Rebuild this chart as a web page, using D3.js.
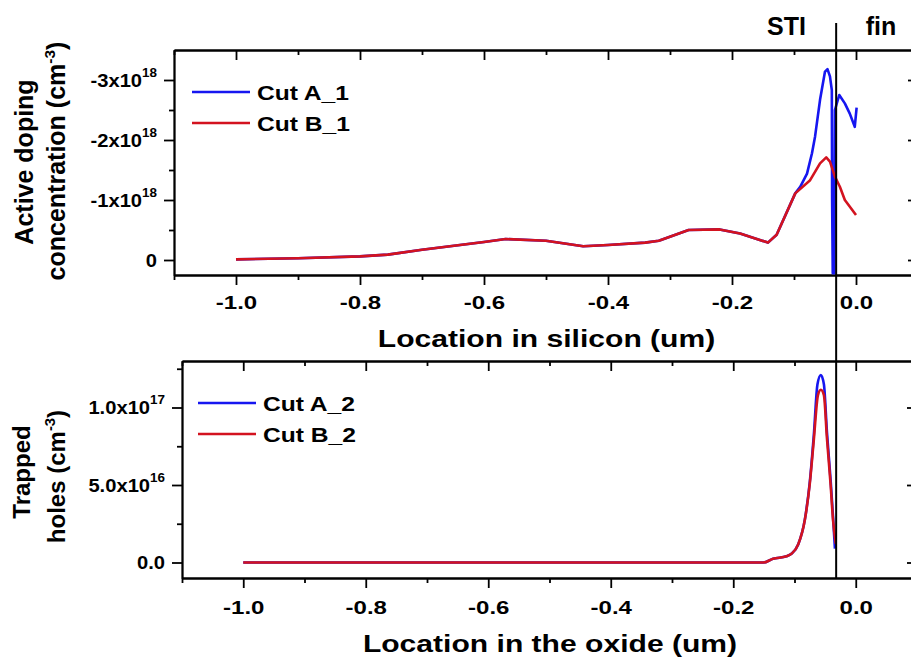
<!DOCTYPE html>
<html>
<head>
<meta charset="utf-8">
<script src="https://cdn.jsdelivr.net/npm/d3@7"></script>
<style>
  body { margin: 0; background: #fff; }
  svg { display: block; font-family: "Liberation Sans", Arial, sans-serif; font-weight: bold; }
</style>
</head>
<body>
<div id="chart"></div>
<script>
// ---- data ----
const xTickValues = [-1.0, -0.8, -0.6, -0.4, -0.2, 0.0];
const xTickLabels = ["-1.0", "-0.8", "-0.6", "-0.4", "-0.2", "0.0"];
const xMinorValues = [-1.1, -0.9, -0.7, -0.5, -0.3, -0.1, 0.1];

// top panel: active doping, in units of 1e18 cm^-3 (negative values)
const siliconYTicks = [0, -1, -2, -3];
const siliconYLabels = [["0", ""], ["-1x10", "18"], ["-2x10", "18"], ["-3x10", "18"]];
const siliconYMinor = [-0.5, -1.5, -2.5];

const cutA1X = [-1.0, -0.9, -0.8, -0.755, -0.7, -0.6, -0.565, -0.5, -0.44, -0.4, -0.34, -0.318, -0.27, -0.22, -0.187, -0.142, -0.128, -0.098,
  -0.090, -0.079, -0.071, -0.066, -0.058, -0.050, -0.046, -0.042, -0.039, -0.0385, -0.0375, -0.035, -0.034, -0.027, -0.018, -0.010, -0.002, 0.001];
const cutA1Y = [-0.01, -0.03, -0.06, -0.09, -0.17, -0.30, -0.35, -0.32, -0.23, -0.25, -0.29, -0.32, -0.50, -0.51, -0.44, -0.29, -0.42, -1.11,
  -1.22, -1.44, -1.78, -2.06, -2.67, -3.14, -3.18, -3.06, -2.83, -1.0, 0.22, 0.22, -2.50, -2.75, -2.61, -2.44, -2.22, -2.54];

const cutB1X = [-1.0, -0.9, -0.8, -0.755, -0.7, -0.6, -0.565, -0.5, -0.44, -0.4, -0.34, -0.318, -0.27, -0.22, -0.187, -0.142, -0.128, -0.098,
  -0.074, -0.058, -0.048, -0.042, -0.034, -0.026, -0.018, 0.0];
const cutB1Y = [-0.01, -0.03, -0.06, -0.09, -0.17, -0.30, -0.35, -0.32, -0.23, -0.25, -0.29, -0.32, -0.50, -0.51, -0.44, -0.29, -0.42, -1.11,
  -1.33, -1.61, -1.71, -1.64, -1.39, -1.22, -1.00, -0.75];

// bottom panel: trapped holes, in units of 1e17 cm^-3
const oxideYTicks = [0, 0.5, 1.0];
const oxideYLabels = [["0.0", ""], ["5.0x10", "16"], ["1.0x10", "17"]];
const oxideYMinor = [0.25, 0.75, 1.25];

const cutA2X = [-1.0, -0.151, -0.135, -0.113, -0.105, -0.094, -0.083, -0.075, -0.0685, -0.0625, -0.057, -0.052, -0.047, -0.041, -0.037, -0.034];
const cutA2Y = [0, 0, 0.024, 0.04, 0.056, 0.116, 0.28, 0.52, 0.82, 1.15, 1.21, 1.15, 0.84, 0.53, 0.29, 0.09];
const cutB2X = [-1.0, -0.151, -0.135, -0.113, -0.105, -0.094, -0.083, -0.075, -0.0685, -0.0617, -0.057, -0.052, -0.047, -0.041, -0.037, -0.0326];
const cutB2Y = [0, 0, 0.024, 0.04, 0.056, 0.116, 0.277, 0.51, 0.79, 1.08, 1.115, 1.08, 0.80, 0.50, 0.27, 0.12];

const interfaceX = -0.032; // STI / fin boundary

// ---- drawing ----
const width = 911;
const height = 662;
const blue = "#1616f0";
const red = "#d3131f";

const svg = d3.create("svg")
  .attr("width", width)
  .attr("height", height)
  .attr("viewBox", [0, 0, width, height]);

d3.select("#chart").append(() => svg.node());

function styleAxis(g) {
  g.attr("font-family", null).attr("font-size", 16);
  g.selectAll("line, path").attr("stroke", "#000").attr("stroke-width", 1.8);
}

// horizontal text, k stretches it sideways like the source
function hText(x, y, str, size, anchor, k) {
  return svg.append("text")
    .attr("transform", `translate(${x},${y}) scale(${k},1)`)
    .attr("text-anchor", anchor)
    .attr("font-size", size)
    .text(str);
}

function vTitle(x, y, size, str, sup) {
  const t = svg.append("text")
    .attr("transform", `translate(${x},${y}) rotate(-90)`)
    .attr("text-anchor", "middle")
    .attr("font-size", size);
  t.append("tspan").text(str);
  if (sup) {
    t.append("tspan").attr("dy", -10).attr("font-size", size * 0.62).text(sup);
    t.append("tspan").attr("dy", 10).text(")");
  }
  return t;
}

function drawPanel(p) {
  const x = d3.scaleLinear().domain([-1.1, 0.1]).range([p.left, p.right]);
  const y = d3.scaleLinear().domain(p.yDomain).range([p.bottom, p.top]);

  // bottom axis, minor then major
  svg.append("g")
    .attr("transform", `translate(0,${p.bottom})`)
    .call(d3.axisBottom(x).tickValues(xMinorValues).tickSize(5).tickSizeOuter(0).tickFormat(""))
    .call(styleAxis);
  svg.append("g")
    .attr("transform", `translate(0,${p.bottom})`)
    .call(d3.axisBottom(x).tickValues(xTickValues).tickSize(10).tickSizeOuter(0).tickPadding(p.xPad)
      .tickFormat((d, i) => xTickLabels[i]))
    .call(styleAxis)
    .call(g => g.selectAll(".tick text").attr("font-size", 18.5).attr("transform", "scale(1.3,1)"));

  // top axis, ticks inward
  svg.append("g")
    .attr("transform", `translate(0,${p.top})`)
    .call(d3.axisTop(x).tickValues(xMinorValues).tickSize(-5).tickSizeOuter(0).tickFormat(""))
    .call(styleAxis);
  svg.append("g")
    .attr("transform", `translate(0,${p.top})`)
    .call(d3.axisTop(x).tickValues(xTickValues).tickSize(-10).tickSizeOuter(0).tickFormat(""))
    .call(styleAxis);

  // left axis
  const ky = 1.12;
  svg.append("g")
    .attr("transform", `translate(${p.left},0)`)
    .call(d3.axisLeft(y).tickValues(p.yMinor).tickSize(5).tickSizeOuter(0).tickFormat(""))
    .call(styleAxis);
  svg.append("g")
    .attr("transform", `translate(${p.left},0)`)
    .call(d3.axisLeft(y).tickValues(p.yTicks).tickSize(10).tickSizeOuter(0).tickPadding(7).tickFormat(""))
    .call(styleAxis)
    .call(g => g.selectAll(".tick text").each(function(d) {
      const lab = p.yLabels[p.yTicks.indexOf(d)];
      const t = d3.select(this)
        .attr("x", -17 / ky)
        .attr("dy", "0.34em")
        .attr("font-size", 18)
        .attr("transform", `scale(${ky},1)`);
      t.append("tspan").text(lab[0]);
      if (lab[1]) t.append("tspan").attr("dy", -10).attr("font-size", 12).text(lab[1]);
    }));

  // right axis, ticks inward
  svg.append("g")
    .attr("transform", `translate(${p.right},0)`)
    .call(d3.axisRight(y).tickValues(p.yMinor).tickSize(-5).tickSizeOuter(0).tickFormat(""))
    .call(styleAxis);
  svg.append("g")
    .attr("transform", `translate(${p.right},0)`)
    .call(d3.axisRight(y).tickValues(p.yTicks).tickSize(-10).tickSizeOuter(0).tickFormat(""))
    .call(styleAxis);

  // curves, red drawn over blue
  p.series.forEach(s => {
    const line = d3.line()
      .x(i => x(s.x[i]))
      .y(i => y(s.y[i]))
      .curve(p.curve);
    svg.append("path")
      .attr("fill", "none")
      .attr("stroke", s.color)
      .attr("stroke-width", 2.6)
      .attr("stroke-linejoin", "round")
      .attr("d", line(d3.range(s.x.length)));
  });

  // legend
  p.series.forEach((s, i) => {
    const ly = p.legendY[i];
    svg.append("line")
      .attr("x1", p.legendX).attr("x2", p.legendX + 58)
      .attr("y1", ly).attr("y2", ly)
      .attr("stroke", s.color).attr("stroke-width", 2.6);
    hText(p.legendX + 65, ly + 7.5, s.name, 20.5, "start", 1.2);
  });

  return x;
}

const xTop = drawPanel({
  left: 174, right: 918, top: 50, bottom: 275,
  yDomain: [0.25, -3.5],
  yTicks: siliconYTicks, yLabels: siliconYLabels, yMinor: siliconYMinor,
  xPad: 10.5,
  curve: d3.curveLinear,
  legendX: 192, legendY: [92, 123],
  series: [
    {name: "Cut A_1", x: cutA1X, y: cutA1Y, color: blue},
    {name: "Cut B_1", x: cutB1X, y: cutB1Y, color: red}
  ]
});

drawPanel({
  left: 182, right: 917, top: 361, bottom: 578,
  yDomain: [-0.1, 1.3],
  yTicks: oxideYTicks, yLabels: oxideYLabels, yMinor: oxideYMinor,
  xPad: 12.5,
  curve: d3.curveMonotoneX,
  legendX: 198, legendY: [403, 434],
  series: [
    {name: "Cut A_2", x: cutA2X, y: cutA2Y, color: blue},
    {name: "Cut B_2", x: cutB2X, y: cutB2Y, color: red}
  ]
});

// axis titles
hText(546.5, 347, "Location in silicon (um)", 23.5, "middle", 1.28);
hText(550, 652, "Location in the oxide (um)", 23.5, "middle", 1.28);
vTitle(33, 162, 25, "Active doping");
vTitle(65, 161, 25, "concentration (cm", "-3");
vTitle(29.5, 472, 24, "Trapped");
vTitle(65, 476.5, 24, "holes (cm", "-3");

// STI / fin boundary
svg.append("line")
  .attr("x1", xTop(interfaceX)).attr("x2", xTop(interfaceX))
  .attr("y1", 23).attr("y2", 578)
  .attr("stroke", "#000").attr("stroke-width", 2);
hText(786.5, 35, "STI", 25, "middle", 1);
hText(881, 35, "fin", 25, "middle", 1);
</script>
</body>
</html>
